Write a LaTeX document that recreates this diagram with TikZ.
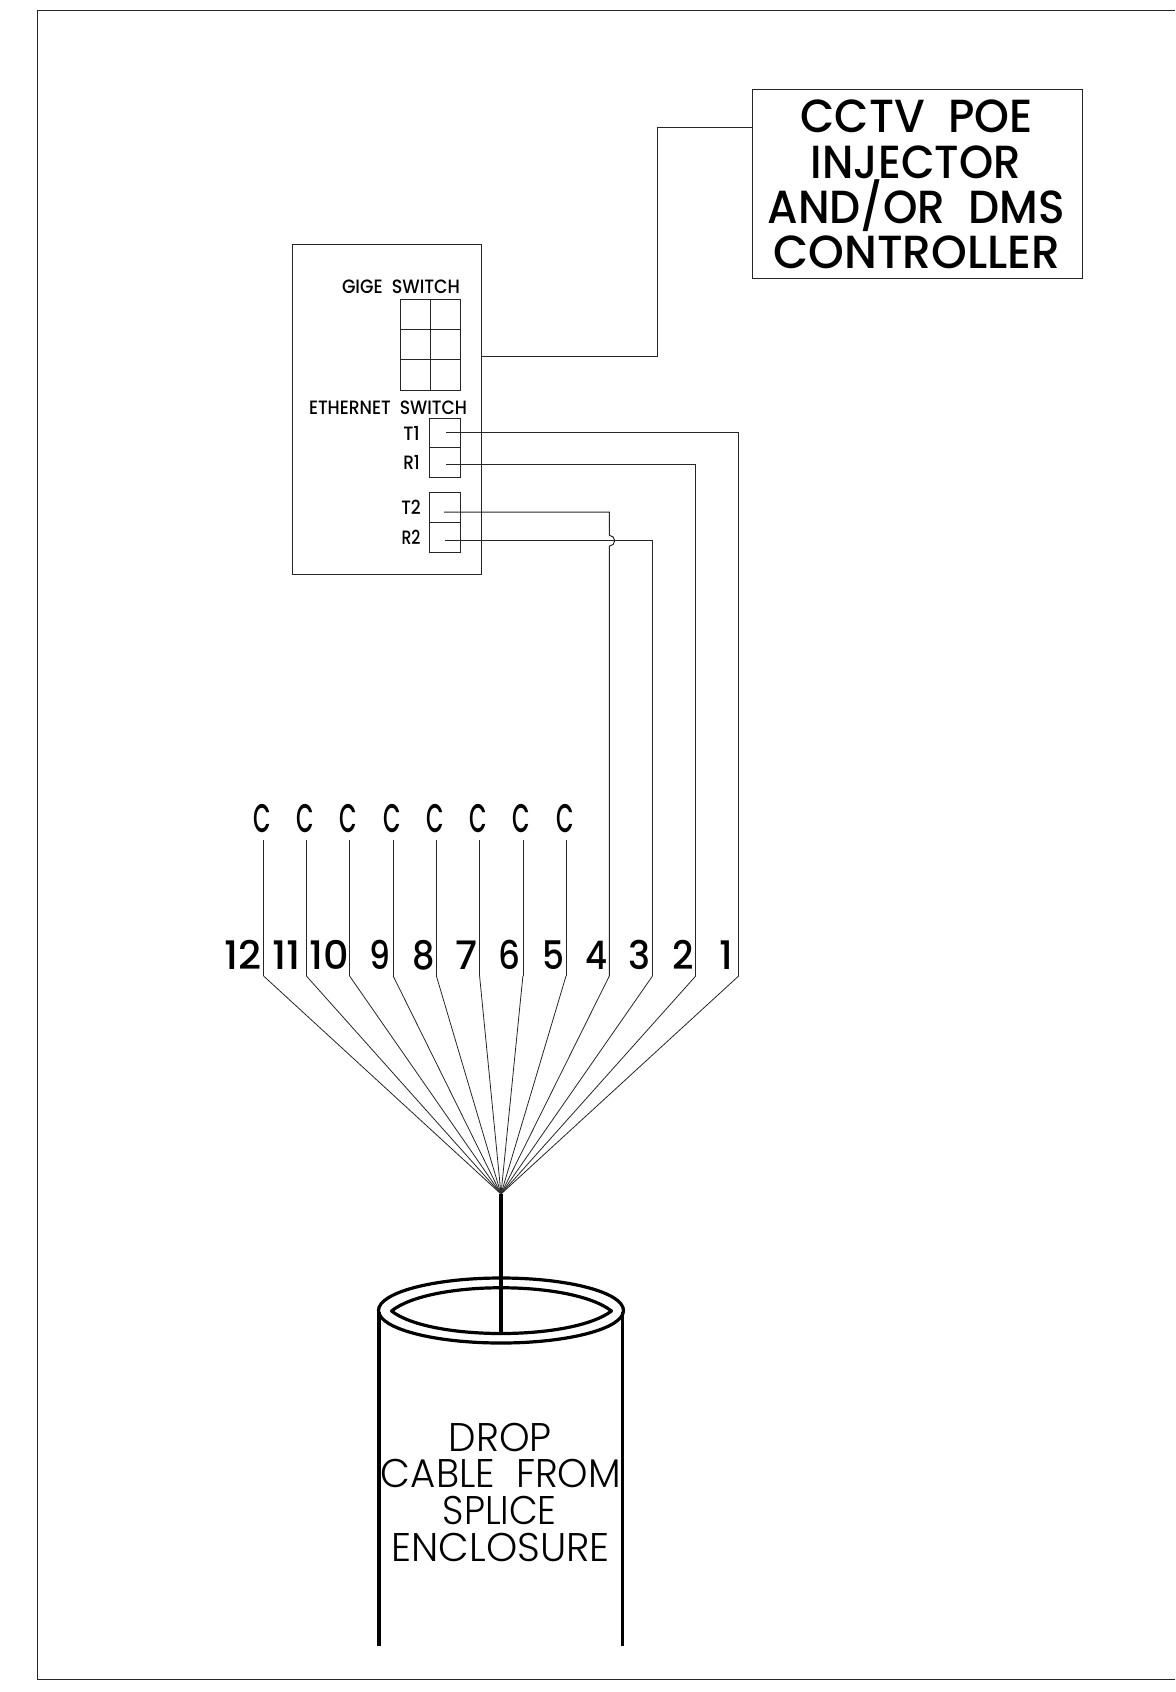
\documentclass[tikz,border=0pt]{standalone}
\usepackage{graphicx}
\usepackage{fontspec}
\setmainfont{Poppins Medium}
\newfontfamily\lightf{Poppins Light}
\newlength{\pxu}
\setlength{\pxu}{0.75pt}
\newcommand{\fitbox}[3]{\resizebox{#1\pxu}{#2\pxu}{\raisebox{0pt}[0.7em][0pt]{#3}}}
\tikzset{
 x=0.75pt,y=-0.75pt,
 wire/.style={line width=0.75pt,black!85},
 thin wire/.style={line width=0.6pt,black!85},
 heavy/.style={line width=2.4pt,black,line join=round},
 lbl/.style={anchor=south,inner sep=0,outer sep=0}
}
\begin{document}
\begin{tikzpicture}
\useasboundingbox (0,0) rectangle (1175,1692);
\draw[wire] (1175,10) -- (37.5,10) -- (37.5,1679) -- (1175,1679);
% boxes
\node[draw,wire,minimum width=330.6*0.75pt,minimum height=188.4*0.75pt,inner sep=0,anchor=north west] (inj) at (751.7,89.3) {};
\node[draw,wire,minimum width=189*0.75pt,minimum height=330*0.75pt,inner sep=0,anchor=north west] (sw) at (292,244) {};
\coordinate (injL) at (751.7,127.7);
\coordinate (swR) at (481,356);
\draw[wire] (swR) -- (657.3,356) -- (657.3,127.7) -- (injL);
% grid
\draw[wire] (400,299) rectangle (460.5,390);
\draw[wire] (430.2,299) -- (430.2,390);
\draw[wire] (400,329.5) -- (460.5,329.5);
\draw[wire] (400,359.5) -- (460.5,359.5);
% port boxes
\draw[wire] (429.5,418) rectangle (460.5,477.7);
\draw[wire] (429.5,447.8) -- (460.5,447.8);
\draw[wire] (429.5,492.3) rectangle (460.5,552.5);
\draw[wire] (429.5,522.5) -- (460.5,522.5);
% bottom fan
\coordinate (hub) at (501,1194);
\foreach \i/\xx in {12/263.6,11/306.4,10/349.6,9/393.2,8/436.4,7/479.6,6/522.9,5/566,4/609.3,3/652.5,2/695.7,1/738.6}{
  \coordinate (b\i) at (\xx,976);
  \draw[thin wire] (hub) -- (b\i);
}
\foreach \i/\xx in {12/263.6,11/306.4,10/349.6,9/393.2,8/436.4,7/479.6,6/522.9,5/566}{
  \draw[thin wire] (b\i) -- (\xx,839.5);
  \node[lbl] (c\i) at (\xx-1.2,832) {\fitbox{17.5}{28}{C}};
}
% fibres
\draw[wire] (446,432) -- (738.6,432) -- (b1);
\draw[wire] (446,464.7) -- (695.7,464.7) -- (b2);
\draw[wire] (444,512) -- (609.3,512) -- (609.3,535.3) arc[start angle=-90,end angle=90,radius=5.4] -- (b4);
\draw[wire] (445,540.7) -- (652.5,540.7) -- (b3);
% numbers
\foreach \i/\xa/\xb in {12/226/260,11/273.6/299,10/311/347.5,9/370.7/388.6,8/413.6/433,7/457/476,6/500/519,5/544/563,4/587/606,3/629.6/648.6,2/673.6/692,1/720.7/731.4}{
  \pgfmathsetmacro\numw{\xb-\xa+3}
  \pgfmathsetmacro\numx{(\xa+\xb)/2}
  \node[lbl] (n\i) at (\numx,969) {\fitbox{\numw}{27.5}{\i}};
}
% labels
\node[lbl] (l1) at (916.5,132.5) {\fitbox{232}{32.5}{CCTV\ \ POE}};
\node[lbl] (l2) at (916,178) {\fitbox{210}{32.5}{INJECTOR}};
\node[lbl] (l3) at (916,223) {\fitbox{297}{32.5}{AND/OR\ \ DMS}};
\node[lbl] (l4) at (917,268) {\fitbox{287}{32.5}{CONTROLLER}};
\node[lbl] (g) at (401,293.3) {\fitbox{118}{13.5}{GIGE\ \ SWITCH}};
\node[lbl] (e) at (388,414.3) {\fitbox{158}{13.5}{ETHERNET\ \ SWITCH}};
\node[lbl] (t1) at (411.5,440) {\fitbox{16.5}{13.5}{T1}};
\node[lbl] (r1) at (411.5,469.3) {\fitbox{16.5}{13.5}{R1}};
\node[lbl] (t2) at (411,514) {\fitbox{19.5}{13.5}{T2}};
\node[lbl] (r2) at (411,544) {\fitbox{19}{13.5}{R2}};
% cable
\draw[line width=2.3pt] (hub) -- (501,1331.7);
\draw[heavy] (501,1310.5) ellipse[x radius=122.5,y radius=32.5];
\draw[heavy] (391.5,1311) .. controls (430,1280) and (572,1280) .. (611.5,1311) .. controls (572,1341) and (430,1341) .. (391.5,1311) -- cycle;
\draw[heavy] (379,1312) -- (379,1646);
\draw[heavy] (622.7,1312) -- (622.7,1646);
\node[lbl] (d1) at (500.4,1451) {\fitbox{103}{28}{\lightf DROP}};
\node[lbl] (d2) at (501,1487.5) {\fitbox{240}{28}{\lightf CABLE\ \ FROM}};
\node[lbl] (d3) at (499.7,1524.5) {\fitbox{114}{28}{\lightf SPLICE}};
\node[lbl] (d4) at (500.7,1561) {\fitbox{218}{28}{\lightf ENCLOSURE}};
\end{tikzpicture}
\end{document}
